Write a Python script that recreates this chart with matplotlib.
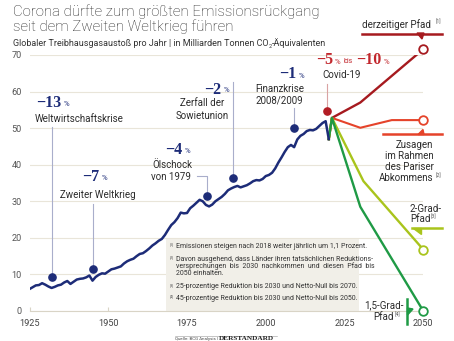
import matplotlib
matplotlib.use("Agg")
import matplotlib.pyplot as plt
from matplotlib.patches import Rectangle, Polygon
from matplotlib.lines import Line2D

W, H = 454, 341
SANS = "Roboto"
SERIF = "Liberation Serif"

# Globaler Treibhausgasausstoss in Gt CO2-Aequivalenten, 1925-2020
years = list(range(1925, 2021))
emissions = [
    6.0, 6.5, 7.0, 7.1, 7.6,
    7.2, 6.7, 6.3, 6.6, 7.0, 7.2, 7.8, 8.2, 7.4, 8.0,
    8.6, 8.8, 8.9, 9.2, 9.7, 8.3, 9.3, 9.9, 10.3, 10.2,
    10.8, 11.4, 11.6, 11.9, 12.2, 13.0, 13.6, 14.0, 14.3, 15.0,
    15.6, 15.8, 16.4, 17.1, 17.9, 18.5, 19.2, 19.7, 20.8, 22.2,
    23.5, 24.3, 25.4, 26.9, 26.7, 26.8, 28.1, 28.8, 29.6, 30.4,
    30.0, 29.0, 28.6, 29.1, 30.0, 30.6, 31.2, 32.0, 33.0, 33.5,
    33.9, 34.2, 33.8, 34.1, 34.4, 34.9, 35.5, 35.8, 35.7, 36.1,
    36.9, 37.2, 37.8, 39.0, 40.6, 42.0, 43.5, 44.8, 45.4, 44.8,
    46.9, 47.9, 48.4, 49.2, 49.5, 49.4, 49.8, 50.6, 51.4, 51.9,
    47.0,
]

# Szenarien bis 2050
cur_years = [2020, 2021, 2030, 2050]
cur_vals = [47.0, 52.8, 57.0, 71.6]
paris_years = [2020, 2021, 2030, 2040, 2050]
paris_vals = [47.0, 52.8, 50.1, 52.2, 52.2]
two_years = [2020, 2021, 2031, 2050]
two_vals = [47.0, 52.8, 35.5, 16.8]
one5_years = [2020, 2021, 2030, 2050]
one5_vals = [47.0, 52.8, 28.5, 0.0]

# Krisen: Markerposition
event_years = [1932, 1945, 1981.5, 1989.5, 2009]
event_vals = [9.4, 11.4, 31.5, 36.5, 50.0]
covid_year, covid_val = 2019.3, 54.8

xticks = [1925, 1950, 1975, 2000, 2025, 2050]
yticks = [0, 10, 20, 30, 40, 50, 60, 70]

NAVY = "#1d2c78"
DARKRED = "#a61a1f"
PARIS = "#e5432a"
TWO = "#a9c41c"
ONE5 = "#1f9a45"
RED = "#c2272d"
TXT = "#2b2b2b"
CONN = "#a9aecb"


def P(x, y):
    return (x / W, 1 - y / H)


def put(x, y, s, **kw):
    kw.setdefault("family", SANS)
    kw.setdefault("color", TXT)
    return fig.text(x / W, 1 - y / H, s, **kw)


fig = plt.figure(figsize=(W / 100, H / 100), dpi=100)
fig.patch.set_facecolor("white")
renderer = fig.canvas.get_renderer()


def chain(x, y, parts, **kw):
    # Textstuecke nebeneinander setzen: (text, fontsize, dy)
    for s, size, dy in parts:
        t = put(x, y + dy, s, ha="left", va="baseline", fontsize=size, **kw)
        x = t.get_window_extent(renderer).x1
    return x


x0, x1, y0, y1 = 29.5, 423.3, 311.0, 55.0
ax = fig.add_axes([x0 / W, 1 - y0 / H, (x1 - x0) / W, (y0 - y1) / H])
ax.set_xlim(1925, 2050)
ax.set_ylim(0, 70)
ax.set_axisbelow(True)
for s in ["top", "right", "left"]:
    ax.spines[s].set_visible(False)
ax.spines["bottom"].set_color("#d9d4c6")
ax.spines["bottom"].set_linewidth(0.8)
ax.grid(axis="y", color="#e9e5d9", lw=0.8)
ax.set_xticks(xticks)
ax.set_yticks(yticks)
ax.tick_params(axis="x", direction="in", length=3, width=0.8, color="#d9d4c6",
               labelsize=6.6, labelcolor="#444", pad=6)
ax.tick_params(axis="y", length=0, labelsize=6.6, labelcolor="#555", pad=5.5)
for lab in ax.get_xticklabels() + ax.get_yticklabels():
    lab.set_family(SANS)


def yval(ypx):
    return ax.transData.inverted().transform((0, H - ypx))[1]


def xval(xpx):
    return ax.transData.inverted().transform((xpx, 0))[0]


# Fussnoten-Kasten
ax.add_patch(Rectangle(P(166, 310.5), (359 - 166) / W, (310.5 - 239) / H,
                       transform=fig.transFigure, facecolor="#f1efe8",
                       edgecolor="none", zorder=1))

# Verlauf
ax.plot(years, emissions, color=NAVY, lw=1.8, zorder=4, solid_joinstyle="round")
ax.plot(cur_years, cur_vals, color=DARKRED, lw=1.7, zorder=3)
ax.plot(paris_years, paris_vals, color=PARIS, lw=1.5, zorder=3)
ax.plot(two_years, two_vals, color=TWO, lw=1.7, zorder=3)
ax.plot(one5_years, one5_vals, color=ONE5, lw=1.7, zorder=3)
for yv, c in [(cur_vals[-1], DARKRED), (paris_vals[-1], PARIS),
              (two_vals[-1], TWO), (one5_vals[-1], ONE5)]:
    ax.plot(2050, yv, "o", ms=6.2, mfc="white", mec=c, mew=1.3,
            clip_on=False, zorder=6)

# Ereignis-Marker mit Verbindungslinien
conn_tops = [127, 204, None, 82, 108]
for xv, yv, top in zip(event_years, event_vals, conn_tops):
    if top is not None:
        ax.plot([xv, xv], [yv, yval(top)], color=CONN, lw=0.8, zorder=2)
    ax.plot(xv, yv, "o", ms=5.2, color=NAVY, zorder=5)
# Oelschock: Winkel
ax.plot([xval(196.5), event_years[2], event_years[2]],
        [yval(176), yval(176), event_vals[2]], color=CONN, lw=0.8, zorder=2)
ax.plot([covid_year, covid_year], [covid_val, yval(84)], color="#d9a3a3",
        lw=0.8, zorder=2)
ax.plot(covid_year, covid_val, "o", ms=5.2, color="#b21d24", zorder=5)


def pct(xr, y, num, color, big=11.5):
    put(xr, y, num, ha="right", va="center", fontsize=big, fontweight="bold",
        family=SERIF, color=color)
    put(xr + 1.8, y + 1, "%", ha="left", va="center", fontsize=5.6, color=color)


pct(61.5, 103, "\u221213", NAVY)
put(78.8, 118.5, "Weltwirtschaftskrise", ha="center", va="center", fontsize=7.0)
pct(99.5, 177, "\u22127", NAVY)
put(98.3, 194.5, "Zweiter Weltkrieg", ha="center", va="center", fontsize=7.0)
pct(182.5, 149.5, "\u22124", NAVY)
put(172, 165, "Ölschock", ha="center", va="center", fontsize=7.0)
put(171, 176.5, "von 1979", ha="center", va="center", fontsize=7.0)
pct(221.5, 89.5, "\u22122", NAVY)
put(202, 103.5, "Zerfall der", ha="center", va="center", fontsize=7.0)
put(202, 116.5, "Sowietunion", ha="center", va="center", fontsize=7.0)
pct(296.5, 74.5, "\u22121", NAVY)
put(279.5, 88.5, "Finanzkrise", ha="center", va="center", fontsize=7.0)
put(279, 100.5, "2008/2009", ha="center", va="center", fontsize=7.0)

# Covid
pct(333, 60.5, "\u22125", RED)
put(344, 61.5, "bis", ha="left", va="center", fontsize=5.0, color=RED)
pct(381.5, 60.5, "\u221210", RED)
put(342, 75.5, "Covid-19", ha="center", va="center", fontsize=7.0)

# Szenario-Legenden
put(397, 24.5, "derzeitiger Pfad", ha="center", va="center", fontsize=7.0)
put(436, 21.5, "[1]", ha="left", va="center", fontsize=3.8, color="#555")
fig.add_artist(Line2D([362 / W, 442 / W], [1 - 33.5 / H] * 2, color=DARKRED,
                      lw=1.8, transform=fig.transFigure))
fig.add_artist(Polygon([P(417, 33), P(424, 33), P(422, 39)], closed=True,
                       color=DARKRED, transform=fig.transFigure))

fig.add_artist(Line2D([383 / W, 442 / W], [1 - 134.3 / H] * 2, color=PARIS,
                      lw=1.8, transform=fig.transFigure))
fig.add_artist(Polygon([P(418, 134.5), P(424, 134.5), P(423, 129.5)],
                       closed=True, color=PARIS, transform=fig.transFigure))
for yy, s in [(145, "Zusagen"), (156, "im Rahmen"), (167, "des Pariser"),
              (178, "Abkommens")]:
    put(433.5, yy, s, ha="right", va="center", fontsize=7.0)
put(436, 175.5, "[2]", ha="left", va="center", fontsize=3.8, color="#555")

put(410, 209, "2-Grad-", ha="left", va="center", fontsize=7.0)
put(410, 219.5, "Pfad", ha="left", va="center", fontsize=7.0)
put(431, 217, "[3]", ha="left", va="center", fontsize=3.8, color="#555")
fig.add_artist(Line2D([411.5 / W, 442 / W], [1 - 228.3 / H] * 2, color=TWO,
                      lw=1.8, transform=fig.transFigure))
fig.add_artist(Polygon([P(413, 228), P(421, 228), P(421, 234)], closed=True,
                       color=TWO, transform=fig.transFigure))

put(403.5, 305.5, "1,5-Grad-", ha="right", va="center", fontsize=7.0)
put(393.5, 317.5, "Pfad", ha="right", va="center", fontsize=7.0)
put(395, 315, "[4]", ha="left", va="center", fontsize=3.8, color="#555")
fig.add_artist(Line2D([407.3 / W] * 2, [1 - 299 / H, 1 - 323.5 / H], color=ONE5,
                      lw=1.8, transform=fig.transFigure))
fig.add_artist(Polygon([P(407.5, 308), P(407.5, 315), P(413, 309)],
                       closed=True, color=ONE5, transform=fig.transFigure))

# Fussnoten
notes = [
    (246.5, "[1]", "Emissionen steigen nach 2018 weiter jährlich um 1,1 Prozent."),
    (259.5, "[2]", "Davon ausgehend, dass Länder ihren tatsächlichen Reduktions-"),
    (266.5, None, "versprechungen  bis  2030  nachkommen  und  diesen  Pfad  bis"),
    (273.5, None, "2050 einhalten."),
    (287.0, "[3]", "25-prozentige Reduktion bis 2030 und Netto-Null bis 2070."),
    (298.0, "[4]", "45-prozentige Reduktion bis 2030 und Netto-Null bis 2050."),
]
for yy, ref, s in notes:
    if ref:
        put(170, yy - 2, ref, ha="left", va="center", fontsize=2.9, color="#555")
    put(176, yy, s, ha="left", va="center", fontsize=5.0, color="#333")

# Titel
put(13, 16, "Corona dürfte zum größten Emissionsrückgang", ha="left",
    va="baseline", fontsize=10.8, fontweight="light", color="#222")
put(13, 31, "seit dem Zweiten Weltkrieg führen", ha="left", va="baseline",
    fontsize=10.8, fontweight="light", color="#222")
chain(13, 46, [("Globaler Treibhausgasaustoß pro Jahr | in Milliarden Tonnen CO", 6.5, 0),
               ("2", 4.0, 1.8), ("-Äquivalenten", 6.5, 0)], color="#333")

# Quelle
fig.add_artist(Line2D([175 / W, 277 / W], [1 - 335.5 / H] * 2, color="#999",
                      lw=0.4, transform=fig.transFigure))
put(175, 339, "Quelle: BCG Analysis |", ha="left", va="center", fontsize=3.2,
    color="#444")
put(219, 338.8, "DERSTANDARD", ha="left", va="center", fontsize=5.2,
    family=SERIF, fontweight="bold", color="#222")

fig.savefig("out.png", dpi=100)
